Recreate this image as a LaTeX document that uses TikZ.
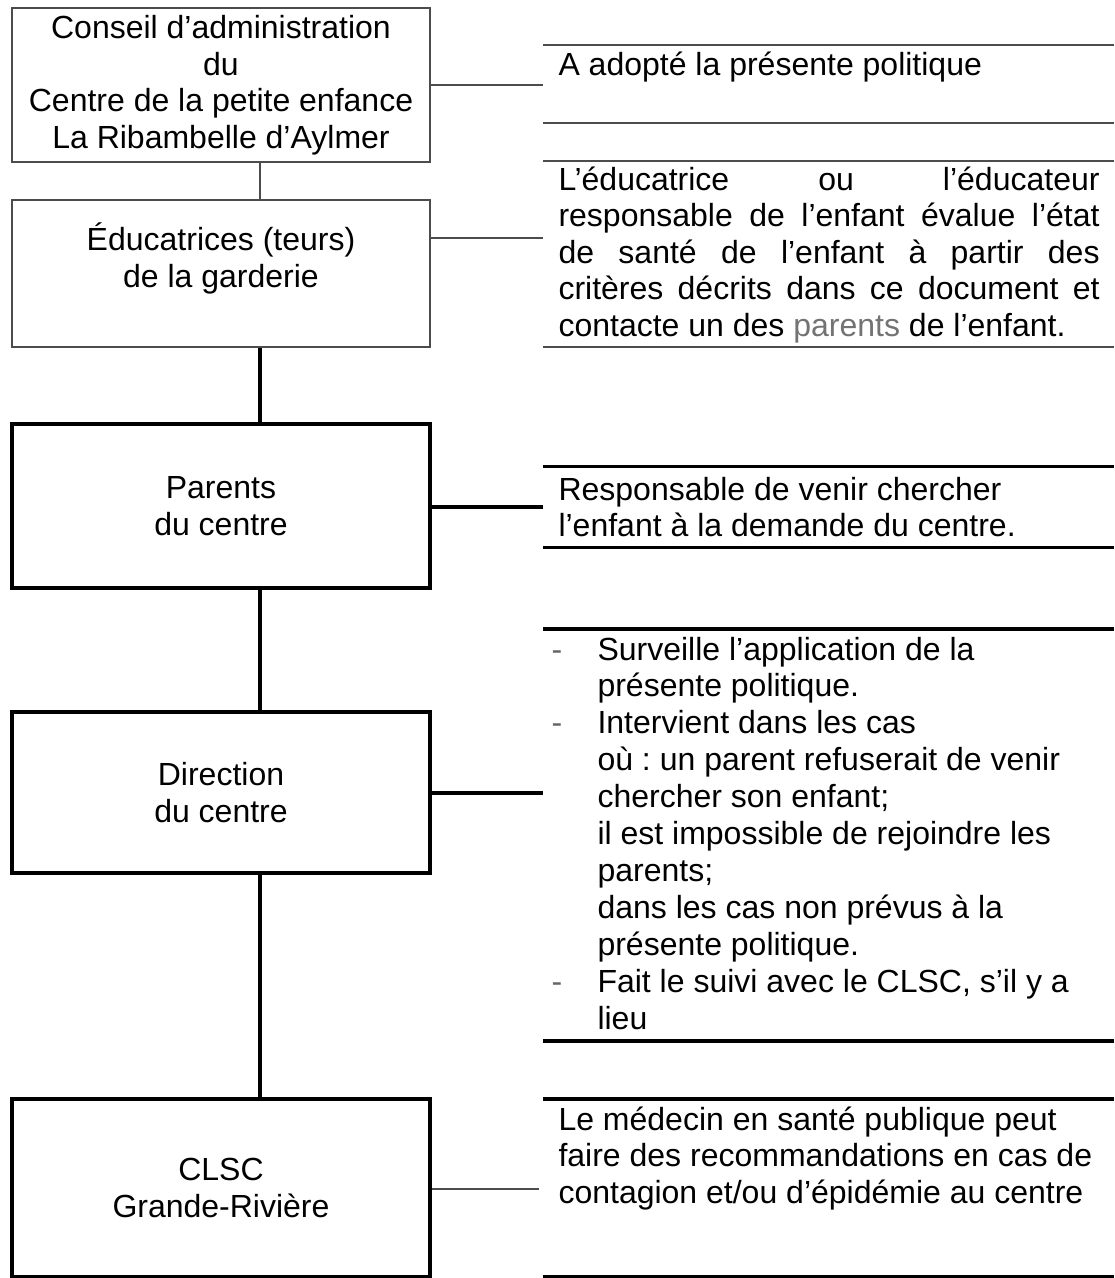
\documentclass[tikz,border=0pt]{standalone}
\usepackage{fontspec}
\setmainfont{Liberation Sans}
\frenchspacing
\newcommand{\upx}{0.375pt}
\newcommand{\puce}{\makebox[17.25pt][l]{\textcolor{black!60}{-}}}
\newcommand{\retrait}{\hspace*{17.25pt}}
\newcommand{\ligne}[1]{\makebox[202.9pt][s]{#1}}
\begin{document}
\begin{tikzpicture}[x=0.375pt,y=-0.375pt,
  every node/.style={font=\fontsize{12pt}{13.7pt}\selectfont},
  thinbox/.style={draw=black!70,line width=0.7pt,inner sep=0pt,align=center,minimum width=418*\upx},
  thickbox/.style={thinbox,draw=black,line width=1.2pt},
  thinline/.style={draw=black!70,line width=0.7pt},
  thickline/.style={draw=black,line width=1.2pt},
  desc/.style={anchor=base west,inner sep=0pt,text width=212pt,align=left,
    execute at begin node={\spaceskip=0pt\xspaceskip=0pt}}]
  \useasboundingbox (0,0) rectangle (1114,1278);
  \coordinate (spine) at (260,0);
  % Left column
  \node[thinbox,minimum height=154*\upx] (conseil) at (221,85)
    {Conseil d’administration\\du\\Centre de la petite enfance\\La Ribambelle d’Aylmer};
  \node[thinbox,minimum height=147*\upx] (educ) at (221,273.5)
    {Éducatrices (teurs)\\de la garderie\\\mbox{}};
  \node[thickbox,minimum height=164*\upx] (parents) at (221,506) {Parents\\du centre};
  \node[thickbox,minimum height=161*\upx] (direction) at (221,792.5) {Direction\\du centre};
  \node[thickbox,minimum height=178*\upx] (clsc) at (221,1188) {CLSC\\Grande-Rivière};
  \draw[thinline] (conseil.south -| spine) -- (educ.north -| spine);
  \draw[thickline] (educ.south -| spine) -- (parents.north -| spine);
  \draw[thickline] (parents.south -| spine) -- (direction.north -| spine);
  \draw[thickline] (direction.south -| spine) -- (clsc.north -| spine);
  % Links to the right column
  \coordinate (j1) at (543,85);
  \coordinate (j2) at (543,238);
  \coordinate (j3) at (543,507);
  \coordinate (j4) at (543,793);
  \coordinate (j5) at (539,1189);
  \draw[thinline] (conseil.east |- j1) -- (j1);
  \draw[thinline] (educ.east |- j2) -- (j2);
  \draw[thickline] (parents.east |- j3) -- (j3);
  \draw[thickline] (direction.east |- j4) -- (j4);
  \draw[thinline] (clsc.east |- j5) -- (j5);
  % Right column rules
  \foreach \y in {45,123,161,347}
    \draw[thinline] (543,\y) -- (1114,\y);
  \foreach \y in {466.5,547.5,629,1041,1099,1276.5}
    \draw[thickline] (543,\y) -- (1114,\y);
  % Right column texts
  \node[desc] (adopte) at (558,75) {A adopté la présente politique};
  \node[desc] (evalue) at (558,190)
    {\ligne{L’éducatrice ou l’éducateur}\\
     \ligne{responsable de l’enfant évalue l’état}\\
     \ligne{de santé de l’enfant à partir des}\\
     \ligne{critères décrits dans ce document et}\\
     contacte un des \textcolor{black!55}{parents} de l’enfant.};
  \node[desc] (venir) at (558,500)
    {Responsable de venir chercher\\l’enfant à la demande du centre.};
  \node[desc,font=\fontsize{12pt}{13.85pt}\selectfont] (surveille) at (551,660)
    {\puce Surveille l’application de la\\
     \retrait présente politique.\\
     \puce Intervient dans les cas\\
     \retrait où : un parent refuserait de venir\\
     \retrait chercher son enfant;\\
     \retrait il est impossible de rejoindre les\\
     \retrait parents;\\
     \retrait dans les cas non prévus à la\\
     \retrait présente politique.\\
     \puce Fait le suivi avec le CLSC, s’il y a\\
     \retrait lieu};
  \node[desc] (medecin) at (558,1130)
    {Le médecin en santé publique peut\\faire des recommandations en cas de\\contagion et/ou d’épidémie au centre};
\end{tikzpicture}
\end{document}
